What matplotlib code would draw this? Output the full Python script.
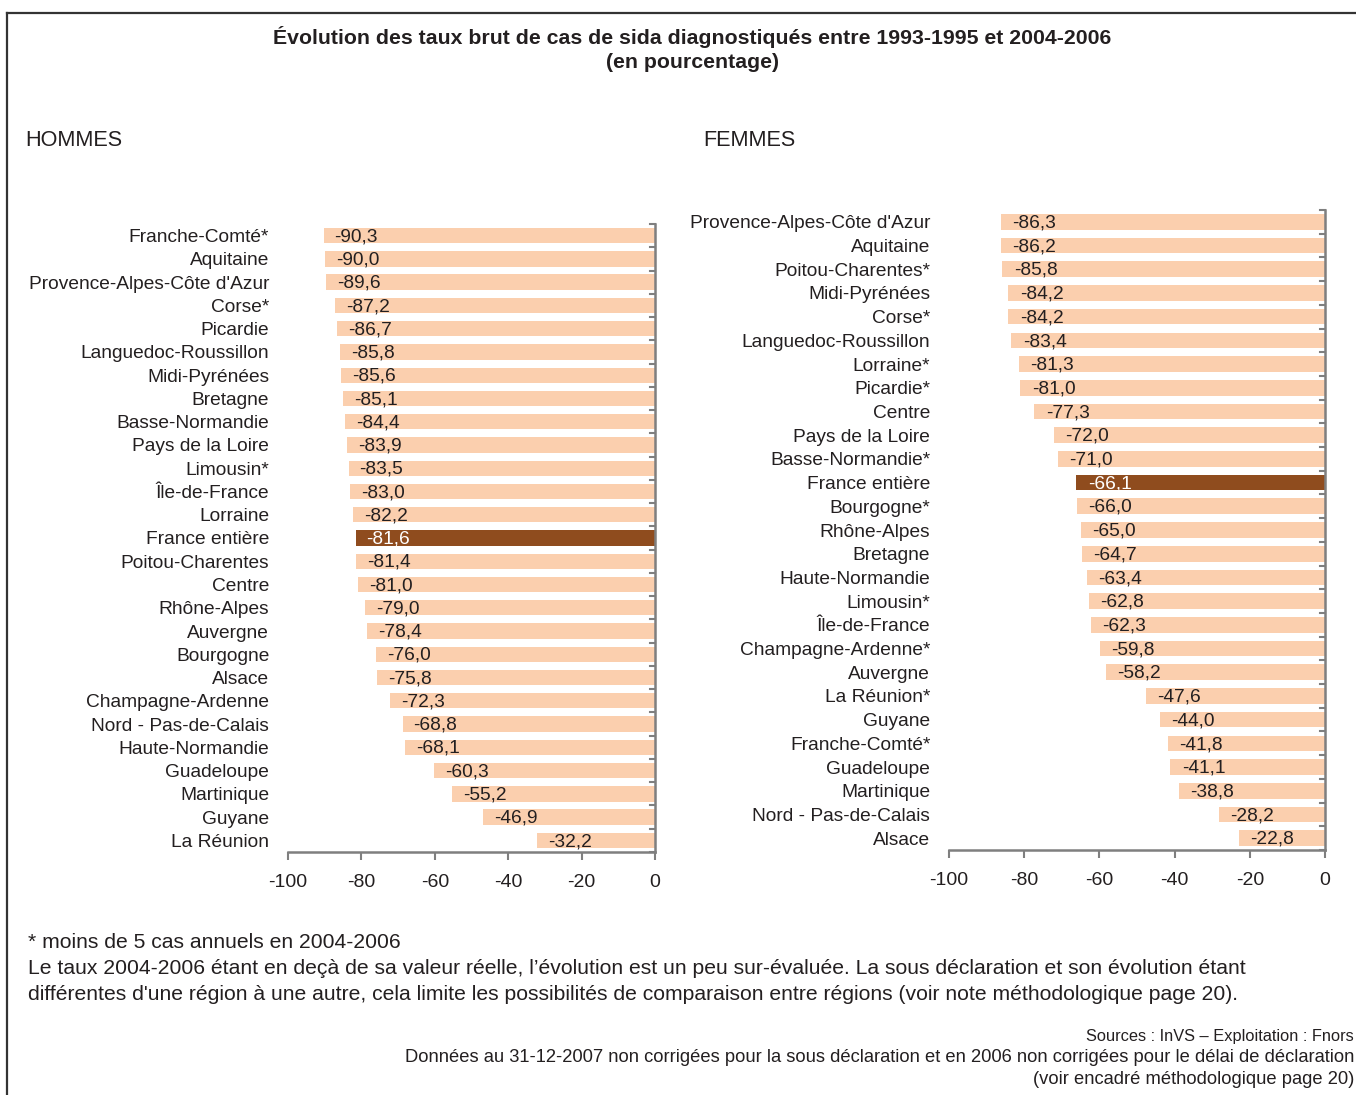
import matplotlib.pyplot as plt
from matplotlib.lines import Line2D

plt.rcParams['font.family'] = ['Liberation Sans', 'DejaVu Sans']
plt.rcParams['axes.unicode_minus'] = False

# HOMMES
regions_h = ["Franche-Comté*", "Aquitaine", "Provence-Alpes-Côte d'Azur", "Corse*",
             "Picardie", "Languedoc-Roussillon", "Midi-Pyrénées", "Bretagne",
             "Basse-Normandie", "Pays de la Loire", "Limousin*", "Île-de-France",
             "Lorraine", "France entière", "Poitou-Charentes", "Centre",
             "Rhône-Alpes", "Auvergne", "Bourgogne", "Alsace",
             "Champagne-Ardenne", "Nord - Pas-de-Calais", "Haute-Normandie",
             "Guadeloupe", "Martinique", "Guyane", "La Réunion"]
values_h = [-90.3, -90.0, -89.6, -87.2, -86.7, -85.8, -85.6, -85.1, -84.4, -83.9,
            -83.5, -83.0, -82.2, -81.6, -81.4, -81.0, -79.0, -78.4, -76.0, -75.8,
            -72.3, -68.8, -68.1, -60.3, -55.2, -46.9, -32.2]

# FEMMES
regions_f = ["Provence-Alpes-Côte d'Azur", "Aquitaine", "Poitou-Charentes*",
             "Midi-Pyrénées", "Corse*", "Languedoc-Roussillon", "Lorraine*",
             "Picardie*", "Centre", "Pays de la Loire", "Basse-Normandie*",
             "France entière", "Bourgogne*", "Rhône-Alpes", "Bretagne",
             "Haute-Normandie", "Limousin*", "Île-de-France", "Champagne-Ardenne*",
             "Auvergne", "La Réunion*", "Guyane", "Franche-Comté*", "Guadeloupe",
             "Martinique", "Nord - Pas-de-Calais", "Alsace"]
values_f = [-86.3, -86.2, -85.8, -84.2, -84.2, -83.4, -81.3, -81.0, -77.3, -72.0,
            -71.0, -66.1, -66.0, -65.0, -64.7, -63.4, -62.8, -62.3, -59.8, -58.2,
            -47.6, -44.0, -41.8, -41.1, -38.8, -28.2, -22.8]

xticks = [-100, -80, -60, -40, -20, 0]

W, H = 1356, 1095
LIGHT = '#fbcfae'
DARK = '#8f4c1e'
GREY = '#7f7f7f'
INK = '#231f20'


def draw_panel(fig, box, regions, values):
    """box in pixels: left, top, right, bottom"""
    l, t, r, b = box
    ax = fig.add_axes([l / W, 1 - b / H, (r - l) / W, (b - t) / H])
    n = len(regions)
    ys = list(range(n))
    colors = [DARK if name == "France entière" else LIGHT for name in regions]
    ax.barh(ys, values, height=0.66, color=colors, zorder=2)
    for y, v, name in zip(ys, values, regions):
        txtcol = 'white' if name == "France entière" else INK
        ax.text(v + 3.0, y + 0.05, ("%.1f" % v).replace('.', ','), va='center',
                ha='left', fontsize=13.8, color=txtcol, zorder=3)
    ax.set_xlim(-100, 0)
    ax.set_ylim(n - 0.5, -0.5)
    ax.set_yticks(ys)
    ax.set_yticklabels(regions, fontsize=13.8, color=INK)
    ax.tick_params(axis='y', length=0, pad=13.5)
    ax.set_xticks(xticks)
    ax.set_xticklabels([str(x) for x in xticks], fontsize=14, color=INK)
    ax.tick_params(axis='x', length=6, width=1.5, color=GREY, pad=10)
    for s in ['top', 'left']:
        ax.spines[s].set_visible(False)
    for s in ['right', 'bottom']:
        ax.spines[s].set_color(GREY)
        ax.spines[s].set_linewidth(1.8)
    # small ticks on the right spine between categories
    for k in range(n + 1):
        ax.plot([-1.4, 0], [k - 0.5, k - 0.5], color=GREY, lw=1.5,
                clip_on=False, zorder=4)
    return ax


fig = plt.figure(figsize=(W / 100, H / 100), dpi=100)

draw_panel(fig, (288, 224, 655, 852), regions_h, values_h)
draw_panel(fig, (949, 210, 1325, 850), regions_f, values_f)

# frame
fig.add_artist(Line2D([7 / W, 7 / W], [0, 1 - 13 / H], color='#333333', lw=1.6))
fig.add_artist(Line2D([7 / W, 1.0], [1 - 13 / H, 1 - 13 / H], color='#333333', lw=1.6))

fig.text(692 / W, 1 - 37 / H,
         "Évolution des taux brut de cas de sida diagnostiqués entre 1993-1995 et 2004-2006",
         ha='center', va='center', fontsize=15.3, fontweight='bold', color=INK)
fig.text(692 / W, 1 - 62 / H, "(en pourcentage)", ha='center', va='center',
         fontsize=15.3, fontweight='bold', color=INK)

fig.text(25 / W, 1 - 140 / H, "HOMMES", ha='left', va='center', fontsize=15.6,
         color=INK)
fig.text(703 / W, 1 - 140 / H, "FEMMES", ha='left', va='center', fontsize=15.6,
         color=INK)

fig.text(28 / W, 1 - 943 / H, "* moins de 5 cas annuels en 2004-2006",
         ha='left', va='center', fontsize=15.2, color=INK)
fig.text(28 / W, 1 - 969 / H,
         "Le taux 2004-2006 étant en deçà de sa valeur réelle, l’évolution est un peu "
         "sur-évaluée. La sous déclaration et son évolution étant",
         ha='left', va='center', fontsize=15.2, color=INK)
fig.text(28 / W, 1 - 995 / H,
         "différentes d'une région à une autre, cela limite les possibilités de "
         "comparaison entre régions (voir note méthodologique page 20).",
         ha='left', va='center', fontsize=15.2, color=INK)

fig.text(1354 / W, 1 - 1036 / H, "Sources : InVS – Exploitation : Fnors",
         ha='right', va='center', fontsize=11.8, color=INK)
fig.text(1354 / W, 1 - 1057 / H,
         "Données au 31-12-2007 non corrigées pour la sous déclaration et en 2006 "
         "non corrigées pour le délai de déclaration",
         ha='right', va='center', fontsize=13.2, color=INK)
fig.text(1354 / W, 1 - 1080 / H, "(voir encadré méthodologique page 20)",
         ha='right', va='center', fontsize=13.2, color=INK)

fig.savefig('out.png', dpi=100)
